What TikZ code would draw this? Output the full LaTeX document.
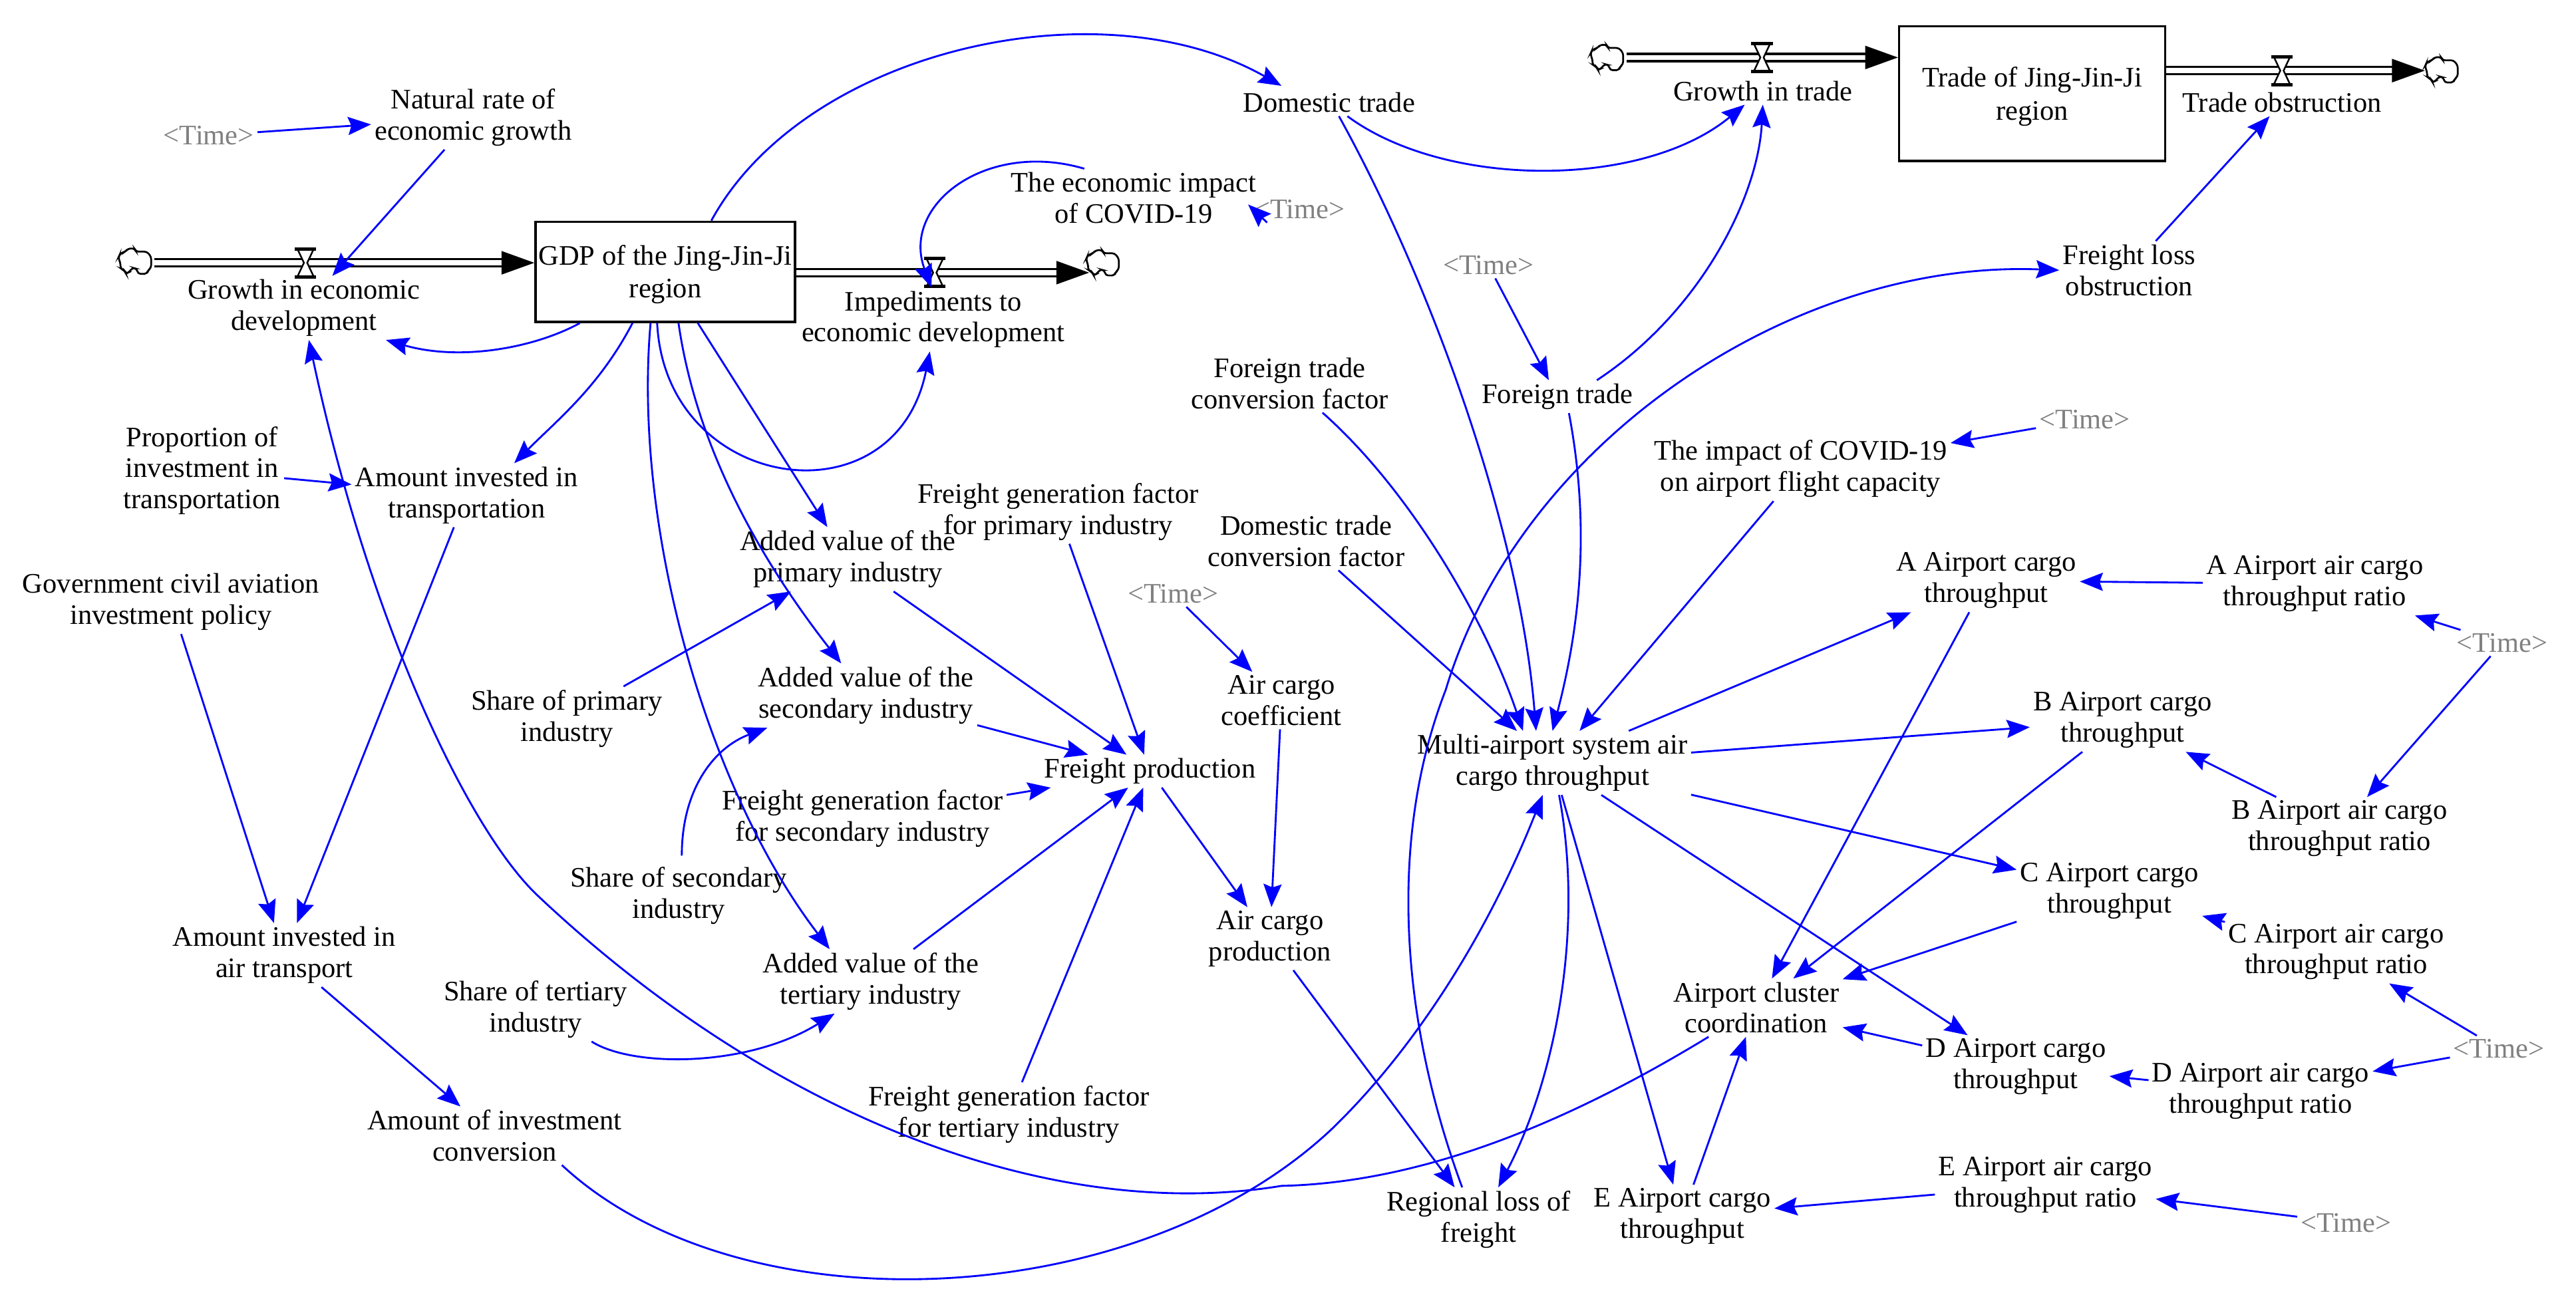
\documentclass[tikz,border=0pt]{standalone}
\usepackage{fontspec}
\setmainfont{Liberation Serif}
\usetikzlibrary{arrows.meta}
\definecolor{lnk}{RGB}{0,0,255}
\definecolor{tmg}{RGB}{128,128,128}
\newcommand{\stkstrut}{\rule{0pt}{15.5pt}}
\tikzset{
  lab/.style={align=center,inner sep=2pt,yshift=-1.5pt,font=\fontsize{17.2}{19}\selectfont},
  tm/.style={lab,text=tmg},
  stock/.style={draw=black,line width=1.4pt,fill=white,align=center,inner sep=0pt,font=\fontsize{17.2}{20}\selectfont},
  lnkarrow/.style={draw=lnk,line width=1.15pt,-{Stealth[length=14pt,width=11pt,inset=2pt]}},
  flowline/.style={draw=black,line width=1.4pt,double=white,double distance=3.1pt,-{Triangle[length=20pt,width=14pt]}},
  cloudpic/.pic={
    \draw[black,line width=1.1pt,fill=white,rounded corners=1.5pt] (-10,-2) -- (-8.8,-4.7) -- (-5.4,-6) -- (-4,-7.7) -- (0,-7.7) -- (0.7,-5.8) -- (7.4,-5.8) -- (10,-2.7) -- (10,4) -- (8,5.8) -- (7.4,7.7) -- (2,7.7) -- (1.3,4.7) -- (-1.3,4) -- (-3.4,6.7) -- (-5.4,7.7) -- (-6,5.8) -- (-8.5,4.7) -- (-8.8,0.7) -- cycle;
  },
  valvepic/.pic={
    \draw[black,line width=1pt,fill=white] (-5,-8.5) -- (5,-8.5) -- (1,0) -- (5,8.5) -- (-5,8.5) -- (-1,0) -- cycle;
    \draw[black,line width=2pt] (-6.5,-8.5) -- (6.5,-8.5) (-6.5,8.5) -- (6.5,8.5);
  }
}
\begin{document}
\begin{tikzpicture}[x=1pt,y=-1pt]
\useasboundingbox[fill=white] (0,0) rectangle (1568,792);
% stocks
\node[stock,minimum width=158pt,minimum height=61pt] (gdp) at (405,165.5) {\stkstrut GDP of the Jing-Jin-Ji\\region};
\node[stock,minimum width=162pt,minimum height=82pt] (trade) at (1237,57) {\stkstrut Trade of Jing-Jin-Ji\\region};
% flow anchors
\coordinate (cl1) at (82,159);
\coordinate (cl2) at (671,160);
\coordinate (cl3) at (978,35);
\coordinate (cl4) at (1486,42.5);
\coordinate (v1) at (186,160);
\coordinate (v2) at (569,166);
\coordinate (v3) at (1072.5,35);
\coordinate (v4) at (1389,43);
\draw[flowline] ([xshift=12pt]v1 -| cl1) -- (v1 -| gdp.west);
\draw[flowline] (v2 -| gdp.east) -- ([xshift=-8pt]v2 -| cl2);
\draw[flowline] ([xshift=12pt]cl3) -- (cl3 -| trade.west);
\draw[flowline] (v4 -| trade.east) -- ([xshift=-10pt]v4 -| cl4);
\pic at (cl1) {cloudpic};
\pic at (cl2) {cloudpic};
\pic at (cl3) {cloudpic};
\pic at (cl4) {cloudpic};
\pic at (v1) {valvepic};
\pic at (v2) {valvepic};
\pic at (v3) {valvepic};
\pic at (v4) {valvepic};
% labels
\node[lab] (natural) at (288,70) {Natural rate of\\economic growth};
\node[tm] (t1) at (127,81) {<Time>};
\node[lab] (growth) at (185,186) {Growth in economic\\development};
\node[lab] (imped) at (568,193) {Impediments to\\economic development};
\node[lab] (dom) at (809,61) {Domestic trade};
\node[lab] (gtrade) at (1073,54) {Growth in trade};
\node[lab] (tobs) at (1389,61) {Trade obstruction};
\node[lab] (ecoimp) at (690,119) {The economic impact\\of COVID-19};
\node[tm] (t2) at (791,126) {<Time>};
\node[tm] (t3) at (906,160) {<Time>};
\node[lab] (floss) at (1296,163) {Freight loss\\obstruction};
\node[lab] (fconv) at (785,232) {Foreign trade\\conversion factor};
\node[lab] (ftrade) at (948,240) {Foreign trade};
\node[lab] (impact) at (1096,284) {The impact of COVID-19\\on airport flight capacity};
\node[tm] (t4) at (1269,254) {<Time>};
\node[lab] (prop) at (123,285) {Proportion of\\investment in\\transportation};
\node[lab] (amtrans) at (284,300) {Amount invested in\\transportation};
\node[lab] (fgp) at (644,310) {Freight generation factor\\for primary industry};
\node[lab] (avp) at (516,339) {Added value of the\\primary industry};
\node[lab] (dconv) at (795,328) {Domestic trade\\conversion factor};
\node[lab] (gov) at (104,365) {Government civil aviation\\investment policy};
\node[tm] (t5) at (714,360) {<Time>};
\node[lab] (acap) at (1209,352) {A Airport cargo\\throughput};
\node[lab] (arat) at (1409,354) {A Airport air cargo\\throughput ratio};
\node[tm] (t6) at (1523,390) {<Time>};
\node[lab] (coef) at (780,425) {Air cargo\\coefficient};
\node[lab] (avs) at (527,422) {Added value of the\\secondary industry};
\node[lab] (shp) at (345,436) {Share of primary\\industry};
\node[lab] (bcap) at (1292,437) {B Airport cargo\\throughput};
\node[lab] (mas) at (945,463) {Multi-airport system air\\cargo throughput};
\node[lab] (fprod) at (700,468) {Freight production};
\node[lab] (fgs) at (525,497) {Freight generation factor\\for secondary industry};
\node[lab] (brat) at (1424,503) {B Airport air cargo\\throughput ratio};
\node[lab] (ccap) at (1284,541) {C Airport cargo\\throughput};
\node[lab] (shs) at (413,544) {Share of secondary\\industry};
\node[lab] (acp) at (773,570) {Air cargo\\production};
\node[lab] (amair) at (173,580) {Amount invested in\\air transport};
\node[lab] (crat) at (1422,578) {C Airport air cargo\\throughput ratio};
\node[lab] (avt) at (530,596) {Added value of the\\tertiary industry};
\node[lab] (clu) at (1069,612) {Airport cluster\\coordination};
\node[lab] (sht) at (326,613) {Share of tertiary\\industry};
\node[tm] (t7) at (1521,637) {<Time>};
\node[lab] (dcap) at (1227,648) {D Airport cargo\\throughput};
\node[lab] (drat) at (1376,663) {D Airport air cargo\\throughput ratio};
\node[lab] (fgt) at (614,677) {Freight generation factor\\for tertiary industry};
\node[lab] (amconv) at (301,690) {Amount of investment\\conversion};
\node[lab] (erat) at (1245,720) {E Airport air cargo\\throughput ratio};
\node[lab] (reg) at (900,741) {Regional loss of\\freight};
\node[lab] (ecap) at (1024,739) {E Airport cargo\\throughput};
\node[tm] (t8) at (1428,743) {<Time>};
% straight links
\foreach \a/\b in {t1/natural,natural/growth,gdp/avp,t3/ftrade,dconv/mas,impact/mas,t4/impact,mas/acap,mas/bcap,floss/tobs,acp/reg,t5/coef,coef/acp,fprod/acp,avp/fprod,fgp/fprod,avs/fprod,fgs/fprod,avt/fprod,fgt/fprod,shp/avp,prop/amtrans,amtrans/amair,gov/amair,amair/amconv,arat/acap,t6/arat,t6/brat,brat/bcap,crat/ccap,t7/crat,t7/drat,drat/dcap,dcap/clu,acap/clu,bcap/clu,ccap/clu,erat/ecap,t8/erat,ecap/clu,mas/dcap,mas/ccap,mas/ecap}
  \draw[lnkarrow] (\a) -- (\b);
% curved links
\draw[lnkarrow] ([xshift=-52pt]gdp.south) .. controls (325,212) and (280,220) .. ([xshift=-23pt]growth.south east);
\draw[lnkarrow] ([xshift=28pt]gdp.north) .. controls (490,30) and (670,-10) .. ([xshift=-29pt,yshift=2pt]dom.north);
\draw[lnkarrow] ([xshift=-5pt]gdp.south) .. controls (405,300) and (545,320) .. ([xshift=-2pt]imped.south);
\draw[lnkarrow] ([xshift=-9pt]gdp.south) .. controls (385,320) and (430,480) .. ([xshift=-25pt]avt.north);
\draw[lnkarrow] ([xshift=8pt]gdp.south) .. controls (425,280) and (470,350) .. ([xshift=-15pt]avs.north);
\draw[lnkarrow] ([xshift=-20pt]gdp.south) .. controls (365,235) and (340,255) .. ([xshift=29pt]amtrans.north);
\draw[lnkarrow] ([xshift=-30pt]ecoimp.north) .. controls (600,85) and (548,125) .. ([xshift=-1pt]imped.north);
\draw[lnkarrow] ([xshift=10pt]t2.south west) -- ([xshift=-7pt,yshift=-4pt]ecoimp.east);
\draw[lnkarrow] (dom) .. controls (880,115) and (1000,115) .. ([xshift=-11pt]gtrade.south);
\draw[lnkarrow] ([xshift=6pt]dom.south) .. controls (870,170) and (925,320) .. ([xshift=-10pt]mas.north);
\draw[lnkarrow] ([xshift=24pt]ftrade.north) .. controls (1035,190) and (1070,120) .. (gtrade.south);
\draw[lnkarrow] ([xshift=7pt]ftrade.south) .. controls (968,320) and (962,380) .. (mas.north);
\draw[lnkarrow] ([xshift=20pt]fconv.south) .. controls (860,300) and (905,380) .. ([xshift=-18pt]mas.north);
\draw[lnkarrow] ([xshift=4pt]mas.south) .. controls (965,570) and (945,660) .. ([xshift=12pt]reg.north);
\draw[lnkarrow] ([xshift=-29pt]clu.south) .. controls (960,680) and (870,720) .. (780,722) .. controls (640,745) and (470,680) .. (327,545) .. controls (285,505) and (225,380) .. ([xshift=3pt]growth.south);
\draw[lnkarrow] ([xshift=-10pt]reg.north) .. controls (852,620) and (845,510) .. (880,420) .. controls (925,270) and (1090,158) .. (floss.west);
\draw[lnkarrow] ([xshift=2pt,yshift=5pt]shs.north) .. controls (415,480) and (435,455) .. ([xshift=-60pt]avs.south);
\draw[lnkarrow] ([xshift=-24pt]sht.south east) .. controls (385,650) and (455,650) .. ([xshift=-22pt]avt.south);
\draw[lnkarrow] ([xshift=41pt]amconv.south) .. controls (450,810) and (690,800) .. (810,688) .. controls (860,640) and (905,570) .. ([xshift=-6pt]mas.south);
\end{tikzpicture}
\end{document}
